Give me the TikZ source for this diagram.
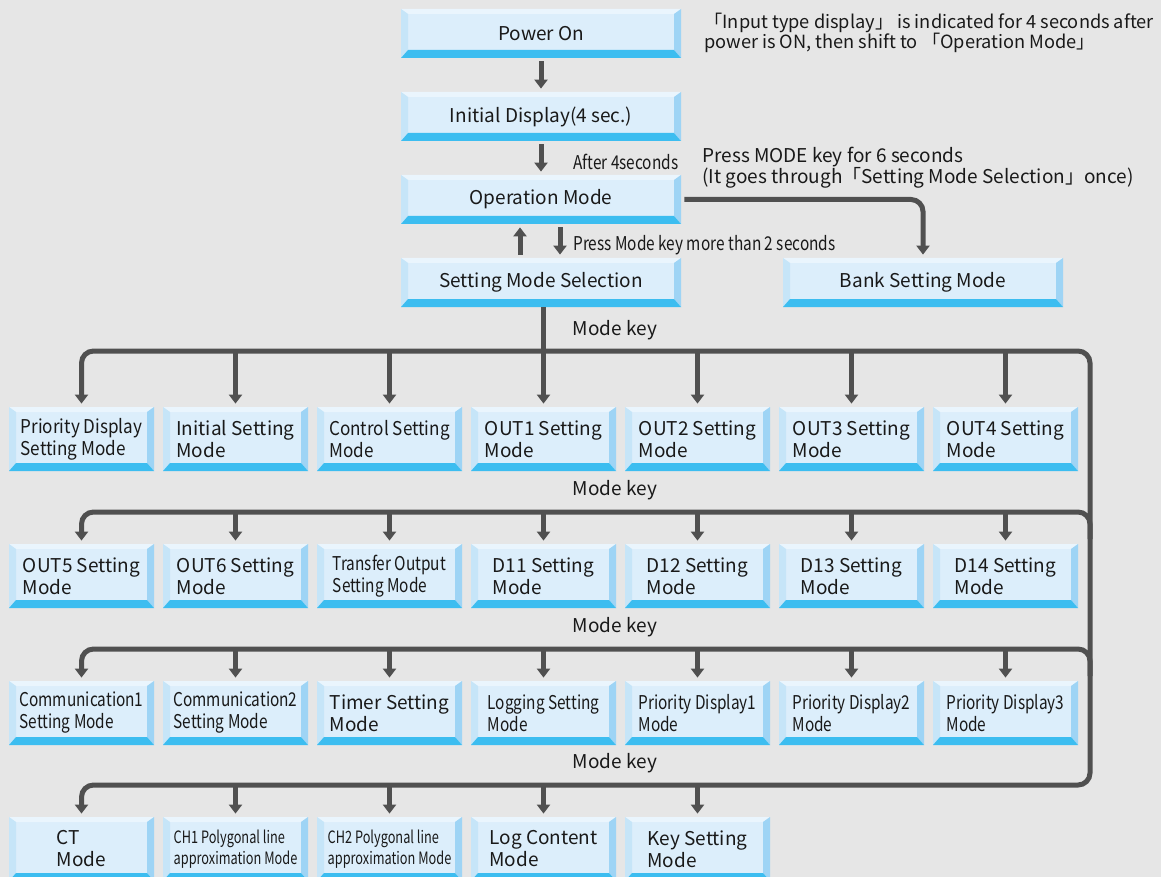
\documentclass[tikz,border=0pt]{standalone}
\usepackage{fontspec}
\setmainfont{Noto Sans CJK JP}
\newfontfamily\snugfont[FakeStretch=0.9]{Noto Sans CJK JP}
\newfontfamily\narrowfont[FakeStretch=0.81]{Noto Sans CJK JP}
\newfontfamily\tightfont[FakeStretch=0.75]{Noto Sans CJK JP}
\usepackage{tikz}
\usetikzlibrary{positioning}
\usetikzlibrary{arrows.meta}
\usepackage{xcolor}

\definecolor{bgray}{HTML}{E6E6E6}
\definecolor{face}{HTML}{DCEEFB}
\definecolor{bvtop}{HTML}{EAF5FD}
\definecolor{bvleft}{HTML}{C6E5F8}
\definecolor{bvright}{HTML}{9ED4F5}
\definecolor{bvbottom}{HTML}{3CBDF0}
\definecolor{flowgray}{HTML}{505050}

\tikzset{
  bevel/.style={rectangle, fill=face, inner sep=0pt, text=black!90,
    path picture={
      \fill[bvtop] (path picture bounding box.north west) -- (path picture bounding box.north east)
        -- ([xshift=-3.5pt,yshift=-2.5pt]path picture bounding box.north east)
        -- ([xshift=3.5pt,yshift=-2.5pt]path picture bounding box.north west) -- cycle;
      \fill[bvleft] (path picture bounding box.north west) -- ([xshift=3.5pt,yshift=-2.5pt]path picture bounding box.north west)
        -- ([xshift=3.5pt,yshift=4pt]path picture bounding box.south west)
        -- (path picture bounding box.south west) -- cycle;
      \fill[bvright] (path picture bounding box.north east) -- ([xshift=-3.5pt,yshift=-2.5pt]path picture bounding box.north east)
        -- ([xshift=-3.5pt,yshift=4pt]path picture bounding box.south east)
        -- (path picture bounding box.south east) -- cycle;
      \fill[bvbottom] (path picture bounding box.south west) -- (path picture bounding box.south east)
        -- ([xshift=-3.5pt,yshift=4pt]path picture bounding box.south east)
        -- ([xshift=3.5pt,yshift=4pt]path picture bounding box.south west) -- cycle;
    }},
  mainbox/.style={bevel, minimum width=140pt, minimum height=24.5pt, font=\fontsize{9.5}{11}\selectfont},
  modebox/.style={bevel, minimum width=72.5pt, minimum height=32pt, align=left, font=\fontsize{9.5}{11}\selectfont},
  snugbox/.style={modebox, font=\snugfont\fontsize{9.5}{11}\selectfont},
  narrowbox/.style={modebox, font=\narrowfont\fontsize{9.5}{11}\selectfont},
  tightbox/.style={modebox, font=\tightfont\fontsize{8.5}{10.5}\selectfont},
  note/.style={inner sep=0pt, text=black!90, font=\fontsize{9.5}{10.25}\selectfont},
  flowline/.style={draw=flowgray, line width=2.5pt},
  flow/.style={flowline, -{Triangle[width=6.5pt,length=4.5pt]}, shorten >=1.5pt, shorten <=1.5pt},
}

\begin{document}
\begin{tikzpicture}[x=0.5pt,y=-0.5pt]
\useasboundingbox (0,0) rectangle (1161,877);
\fill[bgray] (0,0) rectangle (1161,877);

% top boxes
\node[mainbox] (power) at (541,33.5) {Power On};
\node[mainbox] (init) at (541,116.5) {Initial Display(4 sec.)};
\node[mainbox] (oper) at (541,199.5) {Operation Mode};
\node[mainbox] (select) at (541,282.5) {Setting Mode Selection};
\node[mainbox] (bank) at (923,282.5) {Bank Setting Mode};

% mode rows
\foreach \txt/\sty [count=\i from 0] in {{Priority Display\\Setting Mode}/snugbox, {Initial Setting\\Mode}/modebox,
    {Control Setting\\Mode}/snugbox, {OUT1 Setting\\Mode}/modebox, {OUT2 Setting\\Mode}/modebox,
    {OUT3 Setting\\Mode}/modebox, {OUT4 Setting\\Mode}/modebox}
  \node[\sty] (r1c\i) at (81.5+154*\i,439) {\txt};
\foreach \txt/\sty [count=\i from 0] in {{OUT5 Setting\\Mode}/modebox, {OUT6 Setting\\Mode}/modebox,
    {Transfer Output\\Setting Mode}/narrowbox, {D11 Setting\\Mode}/modebox, {D12 Setting\\Mode}/modebox,
    {D13 Setting\\Mode}/modebox, {D14 Setting\\Mode}/modebox}
  \node[\sty] (r2c\i) at (81.5+154*\i,576) {\txt};
\foreach \txt/\sty [count=\i from 0] in {{Communication1\\Setting Mode}/narrowbox, {Communication2\\Setting Mode}/narrowbox,
    {Timer Setting\\Mode}/modebox, {Logging Setting\\Mode}/narrowbox, {Priority Display1\\Mode}/narrowbox,
    {Priority Display2\\Mode}/narrowbox, {Priority Display3\\Mode}/narrowbox}
  \node[\sty] (r3c\i) at (81.5+154*\i,713) {\txt};
\foreach \txt/\sty [count=\i from 0] in {{CT\\Mode}/modebox, {CH1 Polygonal line\\approximation Mode}/tightbox,
    {CH2 Polygonal line\\approximation Mode}/tightbox, {Log Content\\Mode}/modebox, {Key Setting\\Mode}/modebox}
  \node[\sty] (r4c\i) at (81.5+154*\i,849) {\txt};

% bus lines
\coordinate (bus1) at (1090,351);
\coordinate (bus2) at (1090,512);
\coordinate (bus3) at (1090,649);
\coordinate (bus4) at (1090,785);

% arrows
\draw[flow] (power) -- (init);
\draw[flow] (init) -- (oper);
\draw[flow] ([xshift=-10.5pt]select.north) -- ([xshift=-10.5pt]oper.south);
\draw[flow] ([xshift=9.5pt]oper.south) -- ([xshift=9.5pt]select.north);
\draw[flow, rounded corners=6pt] (oper.east) -| (bank.north);
\draw[flowline] (r1c3 |- select.south) -- (r1c3 |- bus1);

\draw[flow, {Triangle[width=6.5pt,length=4.5pt]}-{Triangle[width=6.5pt,length=4.5pt]}, rounded corners=6pt]
  (r1c0.north) |- (bus1) -- (bus4) -| (r4c0.north);
\draw[flow, {Triangle[width=6.5pt,length=4.5pt]}-, rounded corners=6pt] (r2c0.north) |- (bus2) -- ++(0,30);
\draw[flow, {Triangle[width=6.5pt,length=4.5pt]}-, rounded corners=6pt] (r3c0.north) |- (bus3) -- ++(0,30);

\foreach \i in {1,...,6} {
  \draw[flow, shorten <=0pt] (r1c\i |- bus1) -- (r1c\i.north);
  \draw[flow, shorten <=0pt] (r2c\i |- bus2) -- (r2c\i.north);
  \draw[flow, shorten <=0pt] (r3c\i |- bus3) -- (r3c\i.north);
}
\foreach \i in {1,...,4}
  \draw[flow, shorten <=0pt] (r4c\i |- bus4) -- (r4c\i.north);

% notes
\node[note, anchor=west, align=left, font=\fontsize{9.1}{10}\selectfont] (input) at (704,33)
  {「Input type display」 is indicated for 4 seconds after\\power is ON, then shift to 「Operation Mode」};
\node[note, anchor=west] (after) at (573,162) {\narrowfont After 4seconds};
\node[note, anchor=west, align=left, font=\fontsize{9.5}{10.5}\selectfont] (press6) at (702,167.5)
  {Press MODE key for 6 seconds\\(It goes through「Setting Mode Selection」once)};
\node[note, anchor=west] (press2) at (573,245) {\narrowfont Press Mode key more than 2 seconds};

\node[note] (key1) at (615,330) {Mode key};
\node[note] (key2) at (615,490) {Mode key};
\node[note] (key3) at (615,627) {Mode key};
\node[note] (key4) at (615,763) {Mode key};

\end{tikzpicture}
\end{document}
